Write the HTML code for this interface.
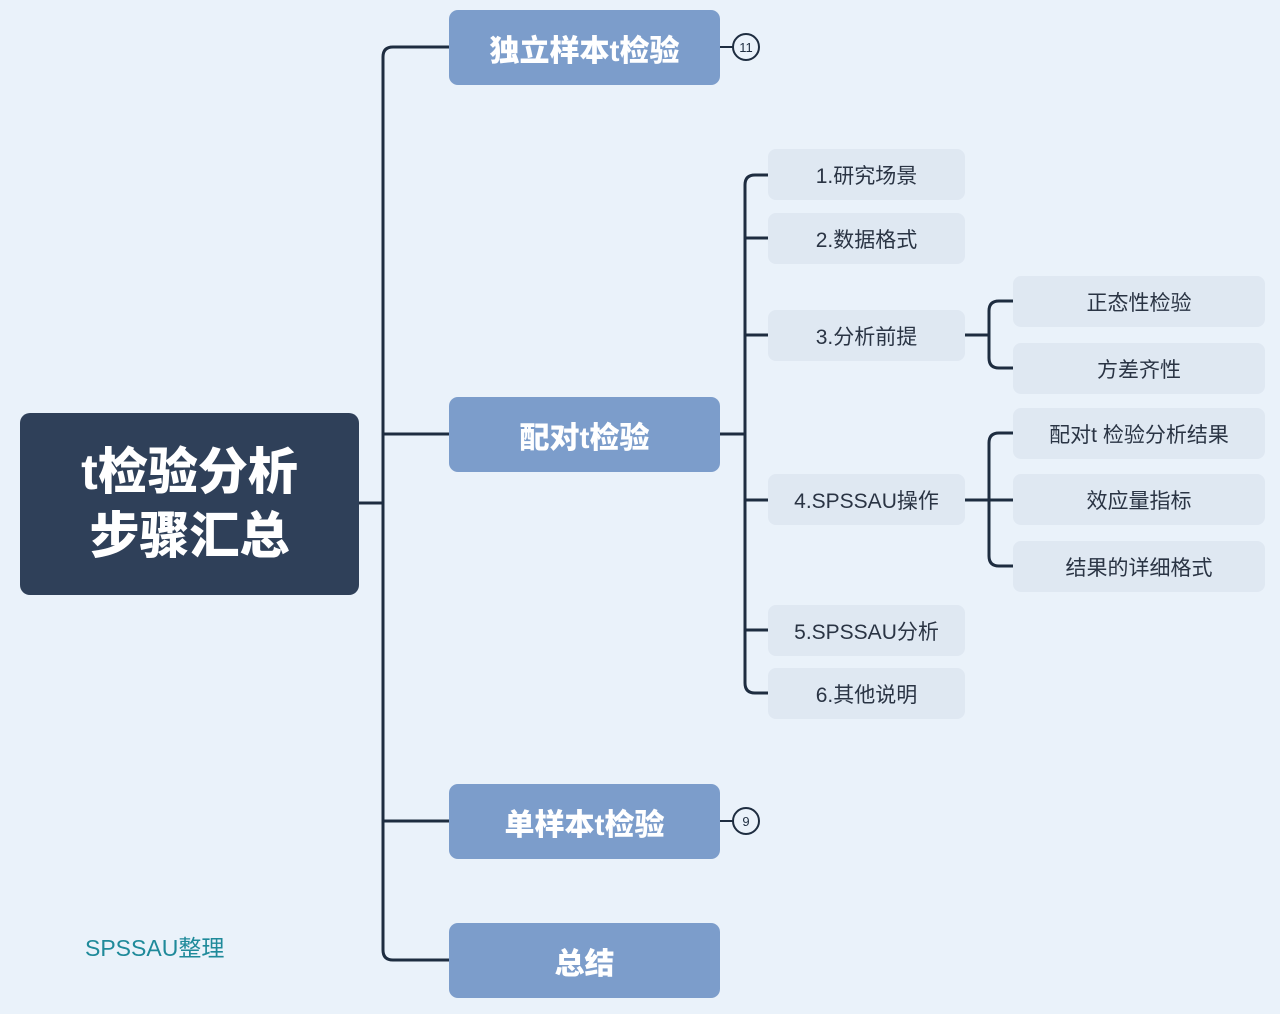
<!DOCTYPE html>
<html><head><meta charset="utf-8"><style>
body{margin:0;width:1280px;height:1014px;background:#eaf2fa;position:relative;overflow:hidden;font-family:"Liberation Sans","Noto Sans CJK SC",sans-serif}
.b{position:absolute;display:flex;align-items:center;justify-content:center;box-sizing:border-box}
.r{left:20px;top:413px;width:339px;height:182px;background:#2f4059;border-radius:10px;color:#fff;font-size:50px;font-weight:900;line-height:64px;text-align:center}
.l1{left:449px;width:271px;height:75px;background:#7c9dcb;border-radius:9px;color:#fff;font-size:30px;font-weight:900}
.l2{left:768px;width:197px;height:51px;background:#dfe8f2;border-radius:8px;color:#2a3444;font-size:21px}
.l3{left:1013px;width:252px;height:51px;background:#dfe8f2;border-radius:8px;color:#2a3444;font-size:21px}
</style></head><body>
<svg width="1280" height="1014" style="position:absolute;left:0;top:0" fill="none" stroke="#1e2d40" stroke-width="3">
<path d="M359 503H383"/>
<path d="M449 47H393Q383 47 383 57V950Q383 960 393 960H449"/>
<path d="M383 434H449M383 821H449"/>
<path d="M720 434H745"/>
<path d="M768 175H755Q745 175 745 185V683Q745 693 755 693H768"/>
<path d="M745 238H768M745 335H768M745 500H768M745 630H768"/>
<path d="M965 335H989M1013 301H999Q989 301 989 311V358Q989 368 999 368H1013"/>
<path d="M965 500H1013M1013 433H999Q989 433 989 443V556Q989 566 999 566H1013"/>
<path d="M720 47H733M720 821H733" stroke-width="2"/>
<circle cx="746" cy="47" r="13" stroke-width="2"/>
<circle cx="746" cy="821" r="13" stroke-width="2"/>
</svg>
<div class="b" style="left:733px;top:34px;width:26px;height:26px;font-size:13px;color:#1e2d40">11</div>
<div class="b" style="left:733px;top:808px;width:26px;height:26px;font-size:13px;color:#1e2d40">9</div>
<div class="b r">t检验分析<br>步骤汇总</div>
<div class="b l1" style="top:10px">独立样本t检验</div>
<div class="b l1" style="top:397px">配对t检验</div>
<div class="b l1" style="top:784px">单样本t检验</div>
<div class="b l1" style="top:923px">总结</div>
<div class="b l2" style="top:149px">1.研究场景</div>
<div class="b l2" style="top:213px">2.数据格式</div>
<div class="b l2" style="top:310px">3.分析前提</div>
<div class="b l2" style="top:474px">4.SPSSAU操作</div>
<div class="b l2" style="top:605px">5.SPSSAU分析</div>
<div class="b l2" style="top:668px">6.其他说明</div>
<div class="b l3" style="top:276px">正态性检验</div>
<div class="b l3" style="top:343px">方差齐性</div>
<div class="b l3" style="top:408px">配对t 检验分析结果</div>
<div class="b l3" style="top:474px">效应量指标</div>
<div class="b l3" style="top:541px">结果的详细格式</div>
<div class="b" style="left:85px;top:930px;height:32px;font-size:23px;color:#1f8a9a">SPSSAU整理</div>
</body></html>
